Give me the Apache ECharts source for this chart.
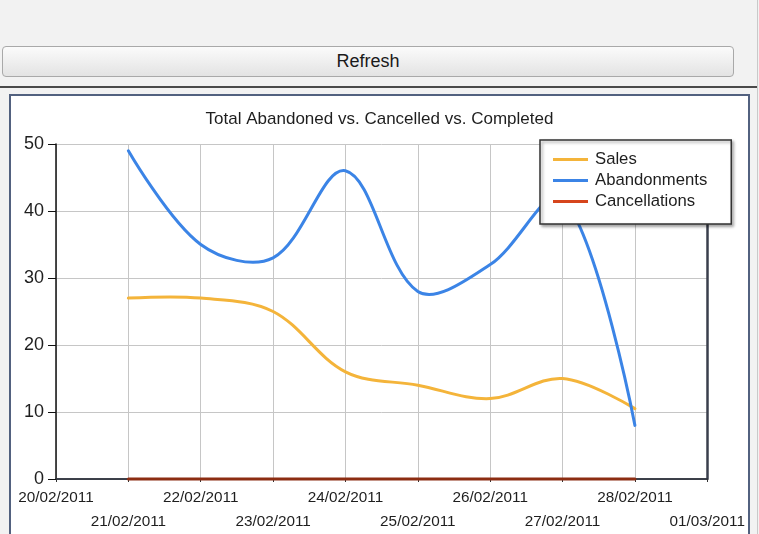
<!DOCTYPE html>
<html>
<head>
<meta charset="utf-8">
<script src="https://cdn.jsdelivr.net/npm/echarts@6/dist/echarts.min.js"></script>
<style>
  html, body { margin: 0; padding: 0; background: #f2f2f2; overflow: hidden; }
  body { width: 759px; height: 534px; position: relative; font-family: "Liberation Sans", Arial, sans-serif; }
  .edge { position: absolute; left: 757px; top: 0; width: 1px; height: 534px; background: #c9c9c9; }
  .btn {
    position: absolute; left: 2px; top: 46px; width: 730px; height: 29px;
    border: 1px solid #a9a9a9; border-radius: 4px;
    background: linear-gradient(#fbfbfb, #e3e3e3);
    font-size: 18px; color: #1a1a1a; text-align: center; line-height: 29px;
  }
  .rule { position: absolute; left: 0; top: 86px; width: 757px; height: 2px; background: #4a4a4a; }
  .panel {
    position: absolute; left: 9px; top: 94px; width: 737px; height: 460px;
    border: 2px solid #52617f; background: #ffffff;
  }
  #chart { position: absolute; left: 0; top: 0; width: 737px; height: 440px; }
</style>
</head>
<body>
<div class="edge"></div>
<div class="btn">Refresh</div>
<div class="rule"></div>
<div class="panel"><div id="chart"></div></div>
<script>
// Daily totals, 20/02/2011 – 01/03/2011
const dates = ['20/02/2011', '21/02/2011', '22/02/2011', '23/02/2011', '24/02/2011',
               '25/02/2011', '26/02/2011', '27/02/2011', '28/02/2011', '01/03/2011'];
const sales         = [null, 27, 27, 25, 16, 14, 12, 15, 10.5, null];
const abandonments  = [null, 49, 35, 33, 46, 28, 32, 42, 8, null];
const cancellations = [null, 0, 0, 0, 0, 0, 0, 0, 0, null];
const yTicks = { min: 0, max: 50, step: 10 };

const font = '"Liberation Sans", Arial, sans-serif';
const chart = echarts.init(document.getElementById('chart'), null, { renderer: 'canvas' });

// One spline per series: the points go through the axes with api.coord and are
// joined by an unconstrained bezier spline (cardinal-style, may overshoot a little).
function splineSeries(name, values, legendColor, strokeColor) {
  const pts = [];
  values.forEach((v, i) => { if (v !== null) pts.push([i, v]); });
  return {
    name: name, type: 'custom', data: pts, encode: { x: 0, y: 1 },
    itemStyle: { color: legendColor },
    renderItem: function (params, api) {
      if (params.dataIndex !== 0) return null;
      const points = pts.map(p => api.coord(p));
      return {
        type: 'polyline',
        shape: { points: points, smooth: 0.35 },
        style: { stroke: strokeColor, lineWidth: 3, fill: null, lineJoin: 'round', lineCap: 'round' }
      };
    }
  };
}

chart.setOption({
  animation: false,
  backgroundColor: '#ffffff',
  title: {
    text: 'Total Abandoned vs. Cancelled vs. Completed',
    left: 'center', top: 10,
    textStyle: { fontFamily: font, fontSize: 17, fontWeight: 'normal', color: '#1e1e1e' }
  },
  legend: {
    orient: 'vertical', left: 529, top: 44,
    padding: [11, 24, 14, 13], itemGap: 4,
    itemWidth: 35, itemHeight: 3, icon: 'rect',
    backgroundColor: '#ffffff', borderColor: '#333', borderWidth: 1.5,
    shadowColor: 'rgba(0,0,0,0.35)', shadowBlur: 3, shadowOffsetX: 2, shadowOffsetY: 2,
    textStyle: { fontFamily: font, fontSize: 16.7, color: '#1e1e1e', padding: [0, 0, 0, 2] },
    data: [
      { name: 'Sales', itemStyle: { color: '#f4b43a' } },
      { name: 'Abandonments', itemStyle: { color: '#3b84e6' } },
      { name: 'Cancellations', itemStyle: { color: '#d6451c' } }
    ]
  },
  grid: { left: 45, top: 48, width: 653, height: 335 },
  xAxis: [{
    type: 'category', data: dates, boundaryGap: false,
    axisLine: { lineStyle: { color: '#111', width: 1.5 } },
    axisTick: { show: true, length: 3, lineStyle: { color: '#333' } },
    axisLabel: {
      interval: 0, margin: 7, fontFamily: font, fontSize: 15.3, color: '#1e1e1e', lineHeight: 24,
      formatter: (v, i) => (i % 2 ? '\n' + v : v)
    },
    splitLine: { show: true, lineStyle: { color: '#c6c6c6', width: 1 } }
  }, {
    type: 'category', data: dates, boundaryGap: false, position: 'top',
    axisLine: { lineStyle: { color: '#3a3f4c', width: 1.5 } },
    axisTick: { show: false }, axisLabel: { show: false }, splitLine: { show: false }
  }],
  yAxis: [{
    type: 'value', min: yTicks.min, max: yTicks.max, interval: yTicks.step,
    axisLine: { show: true, lineStyle: { color: '#111', width: 1.5 } },
    axisTick: { show: true, length: 8, lineStyle: { color: '#111', width: 1 } },
    axisLabel: { margin: 12, fontFamily: font, fontSize: 18, color: '#1e1e1e' },
    splitLine: { show: true, lineStyle: { color: '#c6c6c6', width: 1 } }
  }, {
    type: 'value', min: yTicks.min, max: yTicks.max, interval: yTicks.step, position: 'right',
    axisLine: { show: true, lineStyle: { color: '#3a3f4c', width: 2.5 } },
    axisTick: { show: false }, axisLabel: { show: false }, splitLine: { show: false }
  }],
  series: [
    splineSeries('Sales', sales, '#f4b43a', '#f4b43a'),
    splineSeries('Abandonments', abandonments, '#3b84e6', '#3b84e6'),
    splineSeries('Cancellations', cancellations, '#d6451c', '#8c2d12')
  ]
});
</script>
</body>
</html>
